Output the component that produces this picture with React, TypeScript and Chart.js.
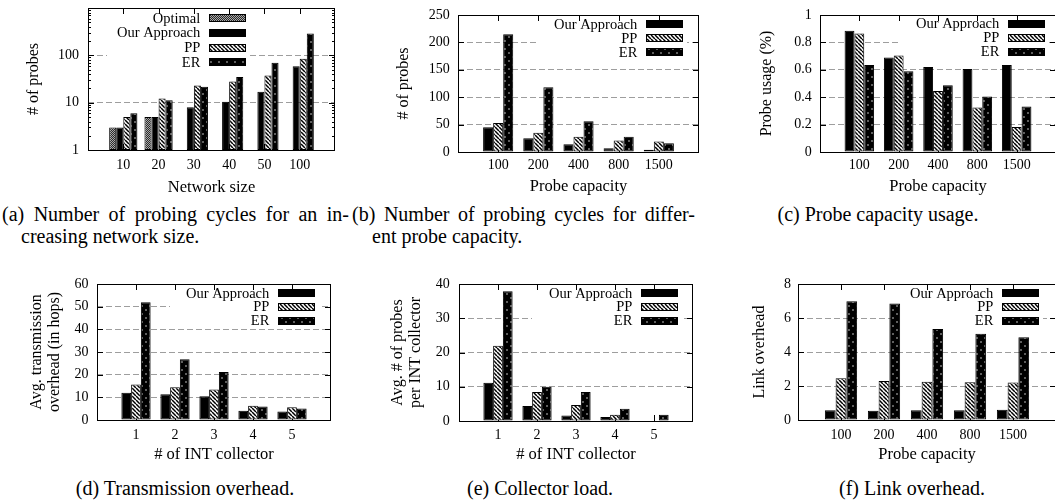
import React, { useEffect, useRef } from 'react';
import { Chart, registerables } from 'chart.js';

Chart.register(...registerables);

const FONT = '"Liberation Serif", "Times New Roman", Times, serif';

// ---------- data ----------
// (a) number of probes vs network size (log scale)
const networkSizes = ['10', '20', '30', '40', '50', '100'];
const optimalBySize: (number | null)[] = [3, 5, null, null, null, null];
const oursBySize = [3, 5, 8, 10.5, 17, 59];
const ppBySize = [5, 12.2, 23, 28, 37.5, 85];
const erBySize = [6, 11.2, 21.6, 35, 70, 290];
const logTicksA = [1, 10, 100, 1000];

// (b) number of probes vs probe capacity
const probeCapacities = ['100', '200', '400', '800', '1500'];
const oursByCap = [45, 25, 14, 7, 4];
const ppByCap = [53, 35, 28, 21, 19];
const erByCap = [215, 118, 56, 28, 16];

// (c) probe capacity usage
const oursUsage = [0.885, 0.69, 0.62, 0.605, 0.635];
const ppUsage = [0.865, 0.705, 0.445, 0.325, 0.183];
const erUsage = [0.635, 0.59, 0.488, 0.405, 0.333];

// (d) transmission overhead vs # INT collectors
const collectorCounts = ['1', '2', '3', '4', '5'];
const oursTransmission = [12, 11.4, 10.5, 4.1, 3.7];
const ppTransmission = [15.7, 14.4, 13.5, 6.3, 5.6];
const erTransmission = [52, 26.8, 21.2, 6, 5.1];

// (e) collector load
const oursCollectorLoad = [11.2, 4.4, 1.6, 1.2, 0];
const ppCollectorLoad = [22, 8.5, 4.7, 1.8, 0];
const erCollectorLoad = [37.9, 10, 8.5, 3.6, 1.8];

// (f) link overhead
const oursLinkOverhead = [0.58, 0.54, 0.57, 0.57, 0.6];
const ppLinkOverhead = [2.46, 2.29, 2.25, 2.22, 2.21];
const erLinkOverhead = [6.98, 6.86, 5.36, 5.08, 4.87];

// ---------- types / styling ----------
type FillKind = 'solid' | 'stripe' | 'dots' | 'checker';
type Series = { name: string; values: (number | null)[]; fill: FillKind };
type Panel = {
  labels: string[];
  series: Series[];
  frame: { l: number; t: number; r: number; b: number };
  y: { log: boolean; min: number; max: number; step?: number; ticks?: number[] };
  yTitle: string | string[];
  yTitleX: number;
  yLabelGap: number;
  xTitle: string;
  xLabelY: number;
  xTitleY: number;
  legend: { sampleRight: number; firstRowY: number; rowH: number; boxLeft: number };
};

const three = (a: number[], b: number[], c: number[]): Series[] => [
  { name: 'Our Approach', values: a, fill: 'solid' },
  { name: 'PP', values: b, fill: 'stripe' },
  { name: 'ER', values: c, fill: 'dots' },
];

const panels: Panel[] = [
  {
    labels: networkSizes,
    series: [
      { name: 'Optimal', values: optimalBySize, fill: 'checker' },
      { name: 'Our Approach', values: oursBySize, fill: 'solid' },
      { name: 'PP', values: ppBySize, fill: 'stripe' },
      { name: 'ER', values: erBySize, fill: 'dots' },
    ],
    frame: { l: 88, t: 8, r: 335, b: 150 },
    y: { log: true, min: 1, max: 1000, ticks: logTicksA },
    yTitle: '# of probes',
    yTitleX: 34,
    yLabelGap: 9,
    xTitle: 'Network size',
    xLabelY: 165,
    xTitleY: 188,
    legend: { sampleRight: 246, firstRowY: 18.3, rowH: 14.7, boxLeft: 107 },
  },
  {
    labels: probeCapacities,
    series: three(oursByCap, ppByCap, erByCap),
    frame: { l: 458, t: 15, r: 699, b: 152 },
    y: { log: false, min: 0, max: 250, step: 50 },
    yTitle: '# of probes',
    yTitleX: 404,
    yLabelGap: 8.3,
    xTitle: 'Probe capacity',
    xLabelY: 165,
    xTitleY: 187,
    legend: { sampleRight: 683, firstRowY: 24.3, rowH: 14, boxLeft: 538 },
  },
  {
    labels: probeCapacities,
    series: three(oursUsage, ppUsage, erUsage),
    frame: { l: 820, t: 15, r: 1056, b: 152 },
    y: { log: false, min: 0, max: 1, step: 0.2 },
    yTitle: 'Probe usage (%)',
    yTitleX: 767,
    yLabelGap: 8.3,
    xTitle: 'Probe capacity',
    xLabelY: 165,
    xTitleY: 187.3,
    legend: { sampleRight: 1045, firstRowY: 24, rowH: 13.8, boxLeft: 900 },
  },
  {
    labels: collectorCounts,
    series: three(oursTransmission, ppTransmission, erTransmission),
    frame: { l: 97, t: 284, r: 331, b: 420 },
    y: { log: false, min: 0, max: 60, step: 10 },
    yTitle: ['Avg. transmission', 'overhead (in hops)'],
    yTitleX: 36.7,
    yLabelGap: 8.4,
    xTitle: '# of INT collector',
    xLabelY: 435,
    xTitleY: 455,
    legend: { sampleRight: 315, firstRowY: 293.3, rowH: 13.7, boxLeft: 170 },
  },
  {
    labels: collectorCounts,
    series: three(oursCollectorLoad, ppCollectorLoad, erCollectorLoad),
    frame: { l: 459, t: 284, r: 693, b: 421 },
    y: { log: false, min: 0, max: 40, step: 10 },
    yTitle: ['Avg. # of probes', 'per INT collector'],
    yTitleX: 397.8,
    yLabelGap: 9.3,
    xTitle: '# of INT collector',
    xLabelY: 435,
    xTitleY: 455,
    legend: { sampleRight: 678, firstRowY: 293.3, rowH: 13.7, boxLeft: 532 },
  },
  {
    labels: probeCapacities,
    series: three(oursLinkOverhead, ppLinkOverhead, erLinkOverhead),
    frame: { l: 798, t: 284, r: 1056, b: 420 },
    y: { log: false, min: 0, max: 8, step: 2 },
    yTitle: 'Link overhead',
    yTitleX: 760,
    yLabelGap: 7,
    xTitle: 'Probe capacity',
    xLabelY: 435,
    xTitleY: 455,
    legend: { sampleRight: 1039, firstRowY: 293.3, rowH: 13.7, boxLeft: 897 },
  },
];

// ---------- fills ----------
let fillCache: Record<FillKind, CanvasPattern | string> | null = null;
function getFills(): Record<FillKind, CanvasPattern | string> {
  if (fillCache) return fillCache;
  const mk = (s: number, draw: (c: CanvasRenderingContext2D) => void) => {
    const cv = document.createElement('canvas');
    cv.width = s;
    cv.height = s;
    const c = cv.getContext('2d')!;
    draw(c);
    return c.createPattern(cv, 'repeat')!;
  };
  const stripe = mk(4, (c) => {
    c.fillStyle = '#fff';
    c.fillRect(0, 0, 4, 4);
    c.strokeStyle = '#000';
    c.lineWidth = 1.5;
    for (const k of [-1, 0, 1]) {
      c.beginPath();
      c.moveTo(k * 4, 0);
      c.lineTo(k * 4 + 4, 4);
      c.stroke();
    }
  });
  const dots = mk(8, (c) => {
    c.fillStyle = '#000';
    c.fillRect(0, 0, 8, 8);
    c.fillStyle = '#5e5e5e';
    c.fillRect(1, 1, 2, 2);
    c.fillRect(5, 5, 2, 2);
  });
  const checker = mk(2, (c) => {
    c.fillStyle = '#a8a8a8';
    c.fillRect(0, 0, 2, 2);
    c.fillStyle = '#2a2a2a';
    c.fillRect(0, 0, 1, 1);
    c.fillRect(1, 1, 1, 1);
  });
  fillCache = { solid: '#000', stripe, dots, checker };
  return fillCache;
}

// ---------- geometry ----------
type Geo = { left: number; top: number; w: number; h: number; yw: number; xh: number };
function geometry(p: Panel): Geo {
  const left = Math.round(p.yTitleX - 9);
  const top = p.frame.t - 20;
  const right = p.frame.r + 20;
  const bottom = Math.round(p.xTitleY + 9.9);
  return { left, top, w: right - left, h: bottom - top, yw: p.frame.l - left, xh: bottom - p.frame.b };
}

function makePlugin(p: Panel, g: Geo, fills: Record<FillKind, CanvasPattern | string>) {
  const n = p.series.length;
  const L = p.legend;
  return {
    id: 'gnuplotFrame',
    beforeDatasetsDraw(chart: any) {
      const ctx: CanvasRenderingContext2D = chart.ctx;
      const a = chart.chartArea;
      const xs = chart.scales.x;
      ctx.save();
      ctx.strokeStyle = '#000';
      ctx.lineWidth = 1;
      ctx.beginPath();
      p.labels.forEach((_, i) => {
        const px = Math.round(xs.getPixelForValue(i)) + 0.5;
        ctx.moveTo(px, a.bottom);
        ctx.lineTo(px, a.bottom - 6);
      });
      ctx.stroke();
      // opaque key box
      ctx.fillStyle = '#fff';
      const bx = L.boxLeft - g.left;
      const by = a.top + 1;
      const bw = L.sampleRight + 4 - L.boxLeft;
      const bh = L.firstRowY + L.rowH * (n - 1) + 7 - g.top - by;
      ctx.fillRect(bx, by, bw, bh);
      ctx.restore();
    },
    afterDatasetsDraw(chart: any) {
      const ctx: CanvasRenderingContext2D = chart.ctx;
      const a = chart.chartArea;
      const xs = chart.scales.x;
      const ys = chart.scales.y;
      ctx.save();
      ctx.strokeStyle = '#000';
      ctx.lineWidth = 1;
      ctx.strokeRect(a.left + 0.5, a.top + 0.5, a.right - a.left - 1, a.bottom - a.top);
      ctx.beginPath();
      // top x tics
      p.labels.forEach((_, i) => {
        const px = Math.round(xs.getPixelForValue(i)) + 0.5;
        ctx.moveTo(px, a.top);
        ctx.lineTo(px, a.top + 6);
      });
      // y tics on both sides
      ys.ticks.forEach((t: any) => {
        const py = Math.round(ys.getPixelForValue(t.value)) + 0.5;
        ctx.moveTo(a.left, py);
        ctx.lineTo(a.left + 6, py);
        ctx.moveTo(a.right, py);
        ctx.lineTo(a.right - 6, py);
      });
      if (p.y.log && p.y.ticks) {
        const tk = p.y.ticks;
        for (let k = 0; k < tk.length - 1; k++) {
          for (let m = 2; m < 10; m++) {
            const py = Math.round(ys.getPixelForValue(tk[k] * m)) + 0.5;
            ctx.moveTo(a.left, py);
            ctx.lineTo(a.left + 3, py);
            ctx.moveTo(a.right, py);
            ctx.lineTo(a.right - 3, py);
          }
        }
      }
      ctx.stroke();
      // key
      ctx.font = `14.5px ${FONT}`;
      ctx.textAlign = 'right';
      ctx.textBaseline = 'middle';
      p.series.forEach((s, k) => {
        const cy = L.firstRowY + k * L.rowH - g.top;
        const sx = L.sampleRight - 37 - g.left;
        ctx.fillStyle = fills[s.fill] as any;
        ctx.fillRect(sx, Math.round(cy - 4), 37, 8);
        ctx.strokeStyle = '#000';
        ctx.strokeRect(sx + 0.5, Math.round(cy - 4) + 0.5, 36, 7);
        ctx.fillStyle = '#000';
        ctx.fillText(s.name, sx - 8.7, cy + 0.5);
      });
      ctx.restore();
    },
  };
}

function buildConfig(p: Panel, g: Geo): any {
  const fills = getFills();
  const catPct = p.series.length / (p.series.length + 1);
  const tickFont = { family: FONT, size: 14, lineHeight: 1.2 };
  const ymin = p.y.min;
  const ymax = p.y.max;
  return {
    type: 'bar',
    data: {
      datasets: p.series.map((s) => ({
        label: s.name,
        data: s.values.map((v, i) => ({ x: i, y: v })),
        backgroundColor: fills[s.fill],
        borderColor: '#000',
        borderWidth: 1,
        borderSkipped: false,
        categoryPercentage: catPct,
        barPercentage: 1,
      })),
    },
    options: {
      animation: false,
      responsive: false,
      maintainAspectRatio: false,
      devicePixelRatio: 1,
      layout: { padding: { top: p.frame.t - g.top, right: g.left + g.w - p.frame.r, left: 0, bottom: 0 } },
      plugins: { legend: { display: false }, tooltip: { enabled: false }, title: { display: false } },
      scales: {
        x: {
          type: 'linear',
          min: -1,
          max: p.labels.length,
          offset: false,
          grid: { display: false, drawTicks: false, offset: false },
          border: { display: false },
          afterBuildTicks: (s: any) => {
            s.ticks = p.labels.map((_, i) => ({ value: i }));
          },
          ticks: {
            autoSkip: false,
            maxRotation: 0,
            minRotation: 0,
            padding: p.xLabelY - p.frame.b - 8.4,
            color: '#000',
            font: tickFont,
            callback: (v: any) => p.labels[Number(v)] ?? '',
          },
          title: {
            display: true,
            text: p.xTitle,
            color: '#000',
            padding: 0,
            font: { family: FONT, size: 16.5, lineHeight: 1.2 },
          },
          afterFit: (s: any) => {
            s.height = g.xh;
          },
        },
        y: {
          type: p.y.log ? 'logarithmic' : 'linear',
          min: ymin,
          max: ymax,
          afterBuildTicks: p.y.ticks
            ? (s: any) => {
                s.ticks = p.y.ticks!.map((v) => ({ value: v }));
              }
            : undefined,
          ticks: {
            stepSize: p.y.step,
            padding: p.yLabelGap,
            color: '#000',
            font: tickFont,
            callback: (v: any) => {
              const num = Number(v);
              if (p.y.log && num === ymax) return '';
              return String(Math.round(num * 1000) / 1000);
            },
          },
          grid: {
            drawTicks: false,
            lineWidth: 1,
            color: (c: any) =>
              c.tick && (c.tick.value === ymin || c.tick.value === ymax) ? 'rgba(0,0,0,0)' : '#9e9e9e',
          },
          border: { display: false, dash: [6, 3] },
          title: {
            display: true,
            text: p.yTitle,
            color: '#000',
            padding: 0,
            font: { family: FONT, size: 16, lineHeight: 1.125 },
          },
          afterFit: (s: any) => {
            s.width = g.yw;
          },
        },
      },
    },
    plugins: [makePlugin(p, g, fills)],
  };
}

function PanelChart({ p }: { p: Panel }) {
  const ref = useRef<HTMLCanvasElement>(null);
  const g = geometry(p);
  useEffect(() => {
    const chart = new Chart(ref.current!, buildConfig(p, g));
    return () => chart.destroy();
  }, []);
  return (
    <canvas
      ref={ref}
      width={g.w}
      height={g.h}
      style={{ position: 'absolute', left: g.left, top: g.top, width: g.w, height: g.h }}
    />
  );
}

const capBase: React.CSSProperties = {
  position: 'absolute',
  fontFamily: FONT,
  fontSize: 20,
  lineHeight: '22px',
  color: '#000',
};
const justified: React.CSSProperties = { ...capBase, textAlign: 'justify', textAlignLast: 'justify' as any };
const centered: React.CSSProperties = { ...capBase, textAlign: 'center', width: 300, whiteSpace: 'nowrap' };

export default function App() {
  return (
    <div
      style={{
        position: 'absolute',
        left: 0,
        top: 0,
        width: 1055,
        height: 502,
        overflow: 'hidden',
        background: '#fff',
      }}
    >
      {panels.map((p, i) => (
        <PanelChart key={i} p={p} />
      ))}
      <div style={{ ...justified, left: 2, top: 203, width: 347 }}>(a) Number of probing cycles for an in-</div>
      <div style={{ ...capBase, left: 21, top: 225, whiteSpace: 'nowrap' }}>creasing network size.</div>
      <div style={{ ...justified, left: 352, top: 203, width: 343 }}>(b) Number of probing cycles for differ-</div>
      <div style={{ ...capBase, left: 372, top: 225, whiteSpace: 'nowrap' }}>ent probe capacity.</div>
      <div style={{ ...centered, left: 878 - 150, top: 203 }}>(c) Probe capacity usage.</div>
      <div style={{ ...centered, left: 185 - 150, top: 477 }}>(d) Transmission overhead.</div>
      <div style={{ ...centered, left: 540 - 150, top: 477 }}>(e) Collector load.</div>
      <div style={{ ...centered, left: 912 - 150, top: 477 }}>(f) Link overhead.</div>
    </div>
  );
}
